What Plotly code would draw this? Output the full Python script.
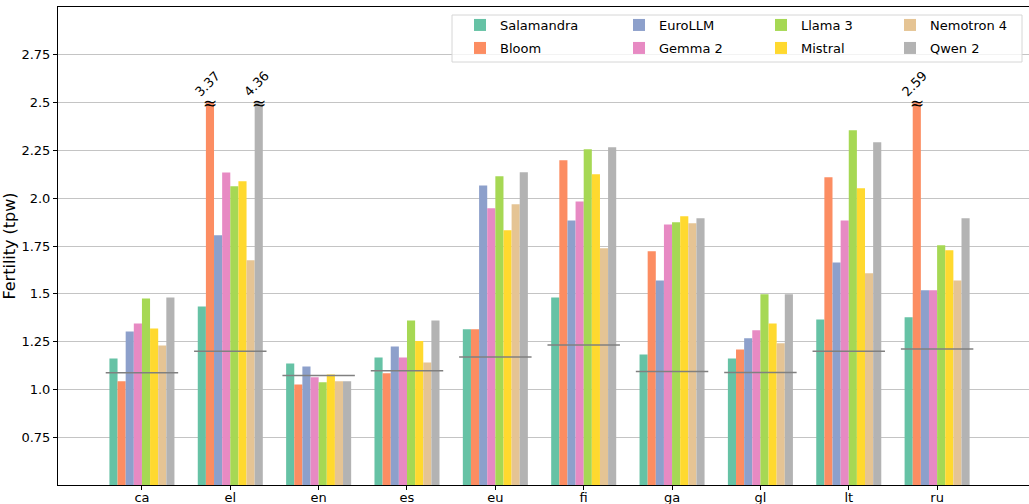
import plotly.graph_objects as go

categories = ["ca", "el", "en", "es", "eu", "fi", "ga", "gl", "lt", "ru"]
models = ["Salamandra", "Bloom", "EuroLLM", "Gemma 2", "Llama 3", "Mistral", "Nemotron 4", "Qwen 2"]
colors = ["#66c2a5", "#fc8d62", "#8da0cb", "#e78ac3", "#a6d854", "#ffd92f", "#e5c494", "#b3b3b3"]

salamandra = [1.162, 1.434, 1.136, 1.167, 1.314, 1.481, 1.183, 1.162, 1.366, 1.377]
bloom      = [1.042, 3.37,  1.026, 1.084, 1.314, 2.198, 1.722, 1.209, 2.109, 2.59]
eurollm    = [1.303, 1.806, 1.120, 1.225, 2.067, 1.884, 1.570, 1.267, 1.664, 1.518]
gemma2     = [1.345, 2.135, 1.063, 1.167, 1.947, 1.983, 1.863, 1.309, 1.884, 1.518]
llama3     = [1.476, 2.062, 1.037, 1.361, 2.115, 2.256, 1.874, 1.497, 2.355, 1.754]
mistral    = [1.318, 2.088, 1.078, 1.253, 1.832, 2.125, 1.905, 1.345, 2.052, 1.728]
nemotron4  = [1.230, 1.675, 1.042, 1.141, 1.968, 1.738, 1.869, 1.241, 1.607, 1.570]
qwen2      = [1.480, 4.36,  1.042, 1.361, 2.136, 2.266, 1.895, 1.497, 2.292, 1.895]
reference  = [1.087, 1.199, 1.073, 1.098, 1.169, 1.232, 1.093, 1.089, 1.199, 1.211]

series = [salamandra, bloom, eurollm, gemma2, llama3, mistral, nemotron4, qwen2]
y_cap = 2.5
y_ticks = [0.75, 1.0, 1.25, 1.5, 1.75, 2.0, 2.25, 2.5, 2.75]
y_ticktext = ["0.75", "1.0", "1.25", "1.5", "1.75", "2.0", "2.25", "2.5", "2.75"]

W, H = 1029, 504
ML, MR, MT, MB = 58, 0, 7, 19
PW, PH = W - ML - MR, H - MT - MB

def px_x(p):
    return (p - ML) / PW

def px_y(p):
    return (H - MB - p) / PH

bar_w = 0.092
n = len(models)

# legend layout (4 columns x 2 rows, column-major like matplotlib ncol=4)
col_text_px = [500, 659, 801, 930]
row_center_px = [25, 48]

fig = go.Figure()
annotations = []
legends = {}
for j, (name, vals, col) in enumerate(zip(models, series, colors)):
    xs = [i + (j - (n - 1) / 2) * bar_w for i in range(len(categories))]
    ys = [min(v, y_cap) for v in vals]
    lg = "legend" if j == 0 else f"legend{j + 1}"
    fig.add_trace(go.Bar(
        x=xs, y=ys, width=bar_w, name=name,
        marker=dict(color=col, line=dict(width=0)),
        legend=lg,
    ))
    c, r = j // 2, j % 2
    legends[lg] = dict(
        x=px_x(col_text_px[c] - 40), y=px_y(row_center_px[r]),
        xanchor="left", yanchor="middle",
        bgcolor="rgba(0,0,0,0)", borderwidth=0,
        font=dict(size=13, family="DejaVu Sans", color="black"),
    )
    for x, v in zip(xs, vals):
        if v > y_cap:
            annotations.append(dict(x=x, y=y_cap, xref="x", yref="y", text="≈",
                                    showarrow=False, font=dict(size=17, color="black",
                                    family="DejaVu Sans"), yshift=0))
            annotations.append(dict(x=x, y=y_cap, xref="x", yref="y", text=f"{v:.2f}",
                                    showarrow=False, textangle=-45,
                                    font=dict(size=13, color="black", family="DejaVu Sans"),
                                    yshift=19, xshift=-2))

# reference lines per group
lx, ly = [], []
for i, r in enumerate(reference):
    lx += [i - 0.41, i + 0.41, None]
    ly += [r, r, None]
fig.add_trace(go.Scatter(x=lx, y=ly, mode="lines", line=dict(color="#808080", width=1.5),
                         showlegend=False, hoverinfo="skip"))

# legend frame
fig.add_shape(type="rect", xref="paper", yref="paper",
              x0=px_x(452), x1=px_x(1022), y0=px_y(62), y1=px_y(15),
              fillcolor="rgba(255,255,255,0.8)", line=dict(color="#d6d6d6", width=1),
              layer="above")

fig.update_layout(
    width=W, height=H,
    margin=dict(l=ML, r=MR, t=MT, b=MB, autoexpand=False),
    paper_bgcolor="white", plot_bgcolor="white",
    barmode="overlay",
    font=dict(family="DejaVu Sans", size=13, color="black"),
    annotations=annotations,
    xaxis=dict(
        range=[-0.95, 10.04], tickmode="array", tickvals=list(range(len(categories))),
        ticktext=categories, showgrid=False, zeroline=False, automargin=False,
        showline=True, linecolor="black", linewidth=1, mirror=True,
        ticks="outside", ticklen=4, tickcolor="black", ticklabelstandoff=-4,
    ),
    yaxis=dict(
        range=[0.5, 3.0], tickmode="array", tickvals=y_ticks, ticktext=y_ticktext,
        showgrid=True, gridcolor="#c4c4c4", gridwidth=1, zeroline=False, automargin=False,
        showline=True, linecolor="black", linewidth=1,
        ticks="outside", ticklen=4, tickcolor="black",
        title=dict(text="Fertility (tpw)", standoff=1),
    ),
    **legends,
)

fig.write_html("out.html", config={"displayModeBar": False},
               post_script="document.body.style.margin='0';")
